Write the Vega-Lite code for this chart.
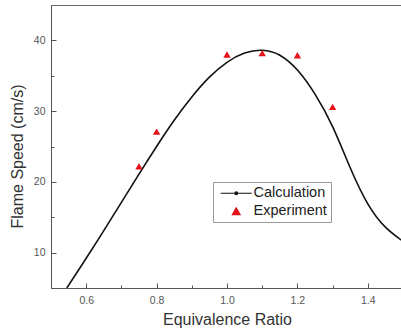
{
  "$schema": "https://vega.github.io/schema/vega-lite/v6.json",
  "width": 352,
  "height": 283,
  "autosize": {"type": "none"},
  "padding": {"left": 51, "top": 5, "right": 0, "bottom": 45},
  "config": {
    "font": "Liberation Sans",
    "view": {"stroke": "#666", "strokeWidth": 1},
    "axis": {
      "grid": false,
      "domainColor": "#555",
      "tickColor": "#555",
      "labelColor": "#555",
      "labelFontSize": 10.5,
      "titleFontSize": 16,
      "titleFontWeight": "normal",
      "titleColor": "#333"
    }
  },
  "datasets": {
    "calc": [
      {"phi": 0.545, "speed": 5.0, "series": "Calculation"},
      {"phi": 0.6, "speed": 9.2, "series": "Calculation"},
      {"phi": 0.65, "speed": 13.1, "series": "Calculation"},
      {"phi": 0.7, "speed": 17.1, "series": "Calculation"},
      {"phi": 0.75, "speed": 21.1, "series": "Calculation"},
      {"phi": 0.8, "speed": 25.0, "series": "Calculation"},
      {"phi": 0.85, "speed": 28.7, "series": "Calculation"},
      {"phi": 0.9, "speed": 32.0, "series": "Calculation"},
      {"phi": 0.95, "speed": 34.8, "series": "Calculation"},
      {"phi": 1.0, "speed": 36.9, "series": "Calculation"},
      {"phi": 1.05, "speed": 38.2, "series": "Calculation"},
      {"phi": 1.1, "speed": 38.6, "series": "Calculation"},
      {"phi": 1.15, "speed": 37.9, "series": "Calculation"},
      {"phi": 1.2, "speed": 35.8, "series": "Calculation"},
      {"phi": 1.25, "speed": 32.4, "series": "Calculation"},
      {"phi": 1.3, "speed": 27.8, "series": "Calculation"},
      {"phi": 1.35, "speed": 22.0, "series": "Calculation"},
      {"phi": 1.4, "speed": 16.9, "series": "Calculation"},
      {"phi": 1.45, "speed": 13.6, "series": "Calculation"},
      {"phi": 1.5, "speed": 11.6, "series": "Calculation"}
    ],
    "expt": [
      {"phi": 0.75, "speed": 22.2, "series": "Experiment"},
      {"phi": 0.8, "speed": 27.1, "series": "Experiment"},
      {"phi": 1.0, "speed": 38.0, "series": "Experiment"},
      {"phi": 1.1, "speed": 38.2, "series": "Experiment"},
      {"phi": 1.2, "speed": 37.9, "series": "Experiment"},
      {"phi": 1.3, "speed": 30.6, "series": "Experiment"}
    ]
  },
  "encoding": {
    "x": {
      "field": "phi",
      "type": "quantitative",
      "title": "Equivalence Ratio",
      "scale": {"domain": [0.5, 1.5], "nice": false, "zero": false},
      "axis": {
        "values": [0.6, 0.7, 0.8, 0.9, 1.0, 1.1, 1.2, 1.3, 1.4, 1.5],
        "labelExpr": "round(datum.value*10) % 2 == 0 ? format(datum.value, '.1f') : ''",
        "tickSize": {"condition": {"test": "round(datum.value*10) % 2 == 0", "value": -5}, "value": -3},
        "labelPadding": 12,
        "titlePadding": 6
      }
    },
    "y": {
      "field": "speed",
      "type": "quantitative",
      "title": "Flame Speed (cm/s)",
      "scale": {"domain": [5, 45], "nice": false, "zero": false},
      "axis": {
        "values": [10, 15, 20, 25, 30, 35, 40],
        "labelExpr": "datum.value % 10 == 0 ? datum.label : ''",
        "tickSize": {"condition": {"test": "datum.value % 10 == 0", "value": -5}, "value": -3},
        "labelPadding": 11,
        "titlePadding": 8,
        "titleY": 151
      }
    }
  },
  "layer": [
    {
      "data": {"name": "calc"},
      "mark": {"type": "line", "interpolate": "natural", "strokeWidth": 1.6, "clip": true},
      "encoding": {
        "color": {
          "field": "series",
          "type": "nominal",
          "title": null,
          "scale": {"domain": ["Calculation", "Experiment"], "range": ["#111111", "#e3131b"]},
          "legend": {
            "orient": "none",
            "legendX": 162,
            "legendY": 177,
            "padding": 4,
            "strokeColor": "#999",
            "fillColor": "white",
            "labelFontSize": 14.5,
            "labelColor": "#222",
            "symbolSize": 60,
            "symbolOffset": 12,
            "labelOffset": 10,
            "rowPadding": 3,
            "encode": {
              "symbols": {
                "update": {
                  "fill": {"scale": "color", "field": "value"},
                  "stroke": {"scale": "color", "field": "value"},
                  "strokeWidth": {"value": 1.2},
                  "opacity": {"value": 1}
                }
              }
            }
          }
        }
      }
    },
    {
      "data": {"name": "expt"},
      "mark": {"type": "point", "filled": true, "size": 55, "opacity": 1},
      "encoding": {
        "color": {"field": "series", "type": "nominal", "title": null},
        "shape": {
          "field": "series",
          "type": "nominal",
          "title": null,
          "scale": {"domain": ["Calculation", "Experiment"], "range": ["M-4,0L4,0M-0.35,0A0.35,0.35 0 1 0 0.35,0A0.35,0.35 0 1 0 -0.35,0Z", "triangle-up"]}
        }
      }
    }
  ]
}
